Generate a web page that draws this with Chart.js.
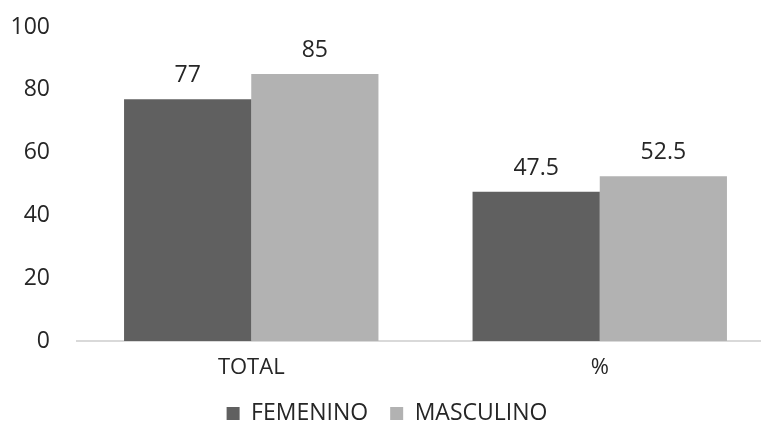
<!DOCTYPE html>
<html>
<head>
<meta charset="utf-8">
<script src="https://cdn.jsdelivr.net/npm/chart.js@4/dist/chart.umd.min.js"></script>
<style>
  html, body { margin: 0; padding: 0; background: #fff; overflow: hidden; }
  #clip { width: 761px; height: 421px; overflow: hidden; }
  #wrap { width: 774px; height: 435px; position: relative; }
</style>
</head>
<body>
<div id="clip"><div id="wrap"><canvas id="chart"></canvas></div></div>
<script>
// Distribución por sexo: total y porcentaje
const categories = ['TOTAL', '%'];
const femenino = [77, 47.5];
const masculino = [85, 52.5];
const yTicks = [0, 20, 40, 60, 80, 100];

const FONT = '"Open Sans", "Noto Sans", sans-serif';
const TEXT = '#262626';

// etiquetas de valor encima de cada barra
const valueLabels = {
  id: 'valueLabels',
  afterDatasetsDraw(chart) {
    const ctx = chart.ctx;
    ctx.save();
    ctx.font = '23px ' + FONT;
    ctx.fillStyle = TEXT;
    ctx.textAlign = 'center';
    ctx.textBaseline = 'bottom';
    chart.data.datasets.forEach((ds, i) => {
      chart.getDatasetMeta(i).data.forEach((bar, j) => {
        ctx.fillText(String(ds.data[j]), bar.x, bar.y - 12);
      });
    });
    ctx.restore();
  }
};

new Chart(document.getElementById('chart').getContext('2d'), {
  type: 'bar',
  data: {
    labels: categories,
    datasets: [
      { label: 'FEMENINO', data: femenino, backgroundColor: '#606060' },
      { label: 'MASCULINO', data: masculino, backgroundColor: '#b2b2b2' }
    ]
  },
  options: {
    responsive: true, maintainAspectRatio: false, animation: false,
    layout: { padding: { top: 27, right: 0, bottom: 0, left: 0 } },
    datasets: { bar: { categoryPercentage: 0.73, barPercentage: 1 } },
    plugins: {
      legend: {
        position: 'bottom',
        labels: { color: TEXT, font: { size: 23, family: FONT }, boxWidth: 13, boxHeight: 13, padding: 22 }
      },
      tooltip: { enabled: false }
    },
    scales: {
      x: {
        afterFit: s => { s.height = 39; },
        grid: { display: false },
        border: { color: '#d9d9d9', width: 2 },
        ticks: { color: TEXT, font: { size: 22, family: FONT }, padding: 6 }
      },
      y: {
        min: 0, max: 100,
        // ancho fijo y sin margen extra arriba/abajo por las etiquetas
        afterFit: s => { s.width = 77; s.paddingTop = 0; s.paddingBottom = 0; },
        afterBuildTicks: s => { s.ticks = yTicks.map(v => ({ value: v })); },
        grid: { display: false, drawTicks: false },
        border: { display: false },
        ticks: { color: TEXT, font: { size: 23, family: FONT }, padding: 27 }
      }
    }
  },
  plugins: [valueLabels]
});
</script>
</body>
</html>
